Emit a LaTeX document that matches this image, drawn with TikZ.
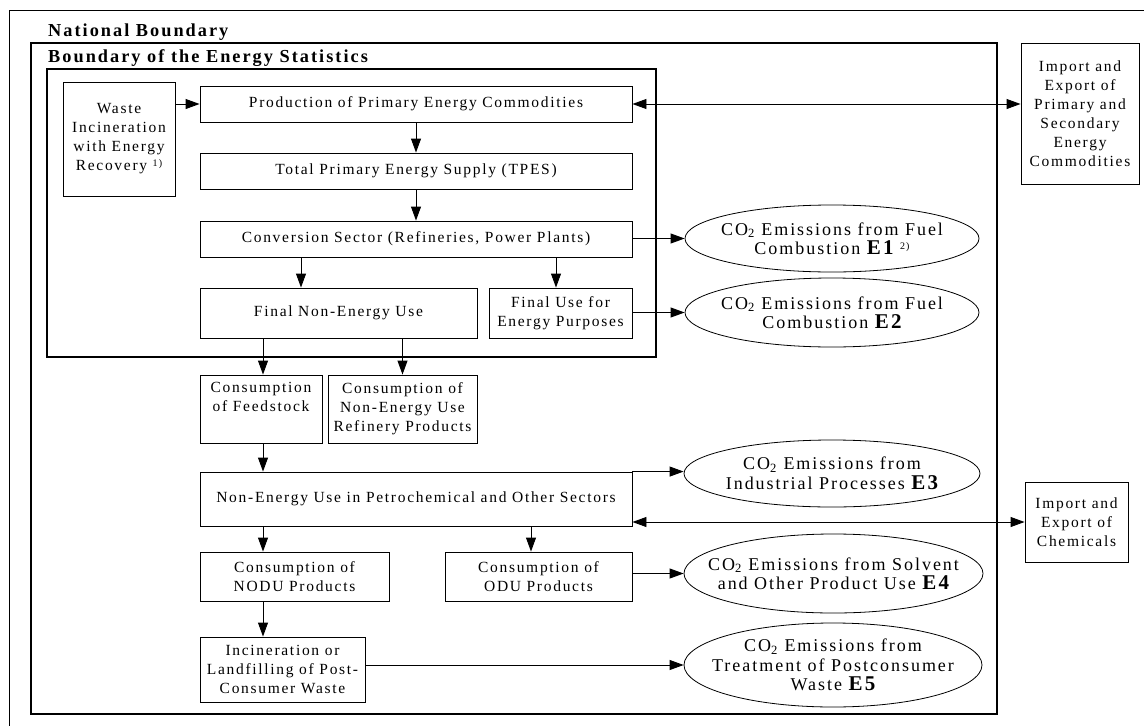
\documentclass[tikz,border=0pt]{standalone}
\usepackage{fontspec}
\setmainfont{Liberation Serif}[LetterSpace=11]
\usetikzlibrary{arrows.meta,shapes.geometric}
% bold emission-category code inside the ellipses
\newcommand\Eid[1]{{\fontsize{21}{19}\selectfont\bfseries E#1}}
\begin{document}
\begin{tikzpicture}[x=1pt,y=-1pt,
  box/.style={draw, line width=0.9pt, inner sep=0pt, align=center,
    font=\fontsize{15.5}{19}\selectfont},
  emis/.style={draw, ellipse, line width=0.8pt, inner xsep=-40pt, inner ysep=-12pt,
    align=center, font=\fontsize{18}{19.5}\selectfont},
  arr/.style={line width=0.9pt, -{Triangle[length=14pt,width=10pt]}},
  biarr/.style={line width=0.9pt,
    {Triangle[length=14pt,width=10pt]}-{Triangle[length=14pt,width=10pt]}},
  title/.style={anchor=west, inner sep=0pt, font=\fontsize{18.3}{19}\selectfont\bfseries}]
\useasboundingbox (0,0) rectangle (1144,726);
\begin{scope}
\clip (0,0) rectangle (1144,726);
% national boundary (runs off the page on the right and bottom)
\draw[line width=0.8pt] (9,10) rectangle (1160,740);
\end{scope}
\node[title] (natl) at (48,32) {National Boundary};
% boundary of the energy statistics
\draw[line width=2.2pt] (31,43) rectangle (997,714);
\node[title] (ebnd) at (48,58) {Boundary of the Energy Statistics};
% energy balance block
\draw[line width=1.3pt] (47,69) rectangle (656,357);

% boxes
\node[box, minimum width=112, minimum height=114] (waste) at (119,139)
  {Waste\\Incineration\\with Energy\\Recovery {\fontsize{10}{10}\selectfont\raisebox{4pt}{1)}}};
\node[box, minimum width=432, minimum height=36] (prod) at (416,104)
  {Production of Primary Energy Commodities};
\node[box, minimum width=432, minimum height=36] (tpes) at (416,171)
  {Total Primary Energy Supply (TPES)};
\node[box, minimum width=432, minimum height=36] (conv) at (416,239)
  {Conversion Sector (Refineries, Power Plants)};
\node[box, minimum width=277, minimum height=50] (fneu) at (338.5,313)
  {Final Non-Energy Use};
\node[box, minimum width=143, minimum height=50] (fuep) at (560.5,313)
  {Final Use for\\Energy Purposes};
\node[box, minimum width=122, minimum height=68] (feed) at (261,409)
  {Consumption\\of Feedstock\\[6pt]};
\node[box, minimum width=149, minimum height=68] (nerp) at (402.5,409)
  {Consumption of\\Non-Energy Use\\Refinery Products};
\node[box, minimum width=432, minimum height=54] (petro) at (416,499)
  {Non-Energy Use in Petrochemical and Other Sectors};
\node[box, minimum width=189, minimum height=49] (nodu) at (294.5,576.5)
  {Consumption of\\NODU Products};
\node[box, minimum width=187, minimum height=49] (odu) at (538.5,576.5)
  {Consumption of\\ODU Products};
\node[box, minimum width=165, minimum height=65] (incin) at (282.5,669.5)
  {Incineration or\\Landfilling of Post-\\Consumer Waste};
\node[box, minimum width=118, minimum height=141] (impP) at (1080,113.5)
  {Import and\\Export of\\Primary and\\Secondary\\Energy\\Commodities};
\node[box, minimum width=103, minimum height=80] (impC) at (1076.5,522)
  {Import and\\Export of\\Chemicals};

% emission ellipses
\node[emis, minimum width=294, minimum height=67] (e1) at (832,238.5)
  {CO\textsubscript{2} Emissions from Fuel\\Combustion \Eid{1} {\fontsize{10}{10}\selectfont\raisebox{5pt}{2)}}};
\node[emis, minimum width=294, minimum height=69] (e2) at (832,312.5)
  {CO\textsubscript{2} Emissions from Fuel\\Combustion \Eid{2}};
\node[emis, minimum width=296, minimum height=67] (e3) at (832,473.5)
  {CO\textsubscript{2} Emissions from\\Industrial Processes \Eid{3}};
\node[emis, minimum width=299, minimum height=79] (e4) at (833.5,573.5)
  {CO\textsubscript{2} Emissions from Solvent\\and Other Product Use \Eid{4}};
\node[emis, minimum width=298, minimum height=84] (e5) at (833,665)
  {CO\textsubscript{2} Emissions from\\Treatment of Postconsumer\\Waste \Eid{5}};

% columns used by the vertical connectors
\coordinate (colA) at (263,0);
\coordinate (colB) at (301,0);
\coordinate (colC) at (556,0);
\coordinate (colD) at (531,0);

% connectors
\draw[arr] (waste.east |- prod.west) -- (prod.west);
\draw[biarr] (prod.east) -- (prod.east -| impP.west);
\draw[arr] (prod.south) -- (tpes.north);
\draw[arr] (tpes.south) -- (conv.north);
\draw[arr] (conv.east |- e1.west) -- (e1.west);
\draw[arr] (conv.south -| colB) -- (fneu.north -| colB);
\draw[arr] (conv.south -| colC) -- (fuep.north -| colC);
\draw[arr] (fuep.east |- e2.west) -- (e2.west);
\draw[arr] (fneu.south -| colA) -- (feed.north -| colA);
\draw[arr] (fneu.south -| nerp.north) -- (nerp.north);
\draw[arr] (feed.south -| colA) -- (petro.north -| colA);
\draw[arr] (petro.north east) -- (petro.north east -| e3.west);
\draw[biarr] (petro.east |- impC.west) -- (impC.west);
\draw[arr] (petro.south -| colA) -- (nodu.north -| colA);
\draw[arr] (petro.south -| colD) -- (odu.north -| colD);
\draw[arr] (odu.east |- e4.west) -- (e4.west);
\draw[arr] (nodu.south -| colA) -- (incin.north -| colA);
\draw[arr] (incin.east |- e5.west) -- (e5.west);
\end{tikzpicture}
\end{document}
